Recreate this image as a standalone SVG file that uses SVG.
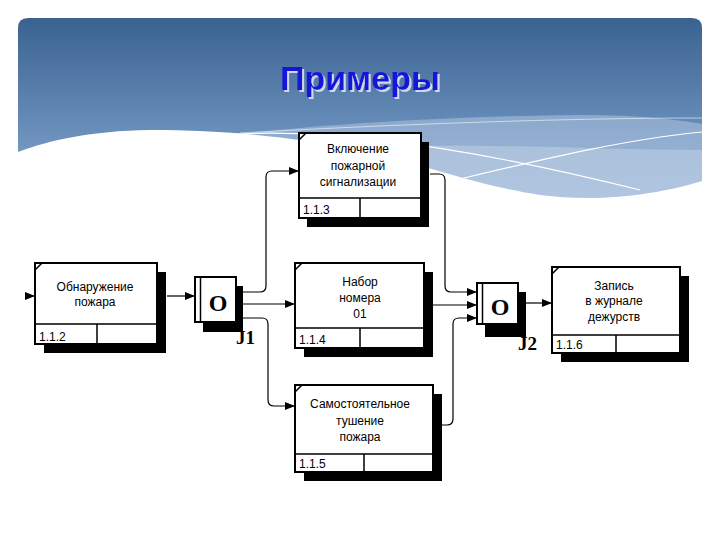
<svg xmlns="http://www.w3.org/2000/svg" width="720" height="540" viewBox="0 0 720 540">
<defs>
<linearGradient id="hdr" x1="0" y1="18" x2="0" y2="200" gradientUnits="userSpaceOnUse">
<stop offset="0" stop-color="#3a6290"/>
<stop offset="0.55" stop-color="#6389b6"/>
<stop offset="1" stop-color="#8eaacf"/>
</linearGradient>
<filter id="tsh" x="-10%" y="-20%" width="130%" height="150%">
<feDropShadow dx="2" dy="2" stdDeviation="0.6" flood-color="#d0d8ee" flood-opacity="1"/>
</filter>
<marker id="ah" viewBox="0 0 10 8" refX="10" refY="4" markerWidth="10" markerHeight="8" markerUnits="userSpaceOnUse" orient="auto">
<path d="M0,0 L10,4 L0,8 Z" fill="#000"/>
</marker>
<style>
.box{fill:#fff;stroke:#000;stroke-width:2}
.sh{fill:#000}
.dv{stroke:#000;stroke-width:1.5;fill:none}
.lbl{font-family:"Liberation Sans",Arial,sans-serif;font-size:12px;fill:#000;text-anchor:middle}
.num{font-family:"Liberation Sans",Arial,sans-serif;font-size:12px;fill:#000}
.jo{font-family:"Liberation Serif","Times New Roman",serif;font-weight:bold;font-size:24px;fill:#000;text-anchor:middle}
.jl{font-family:"Liberation Serif","Times New Roman",serif;font-weight:bold;font-size:19px;fill:#000}
.cn{fill:none;stroke:#000;stroke-width:1.2}
</style>
</defs>
<rect x="0" y="0" width="720" height="540" fill="#fff"/>
<g id="background">
<path d="M18,28 Q18,18 28,18 L692,18 Q702,18 702,28 L702,215 L18,215 Z" fill="url(#hdr)"/>
<path d="M222,136 C320,124 460,116 580,115 C640,115 680,120 702,124 L702,200 L230,200 Z" fill="#a9bfdc" opacity="0.6"/>
<path d="M330,150 C450,140 580,150 702,150 L702,200 L330,200 Z" fill="#c3d3e8" opacity="0.5"/>
<path d="M18,152 C50,140 90,131 150,130 C230,130 300,138 360,150 C420,163 470,184 540,195 C600,203 660,194 702,181 L702,540 L18,540 Z" fill="#fff"/>
<path d="M222,135 C330,126 480,150 640,190" fill="none" stroke="#fff" stroke-width="1.2"/>
<path d="M443,183 C540,160 620,140 702,132" fill="none" stroke="#fff" stroke-width="1.2"/>
<path d="M240,133 C380,125 560,118 702,118" fill="none" stroke="#fff" stroke-width="0.8" opacity="0.7"/>
</g>
<g id="title">
<text x="360" y="90" font-family="Liberation Sans,Arial,sans-serif" font-weight="bold" font-size="34" fill="#1818d8" text-anchor="middle" filter="url(#tsh)">Примеры</text>
</g>
<g id="connectors">
<path class="cn" d="M26,296 L35,296" marker-end="url(#ah)"/>
<path class="cn" d="M167,296 L195,296" marker-end="url(#ah)"/>
<path class="cn" d="M243,292 L260,292 Q266,292 266,286 L266,177 Q266,171 272,171 L299,171" marker-end="url(#ah)"/>
<path class="cn" d="M243,304 L295,304" marker-end="url(#ah)"/>
<path class="cn" d="M243,318 L262,318 Q268,318 268,324 L268,400 Q268,406 274,406 L295,406" marker-end="url(#ah)"/>
<path class="cn" d="M430,174 L439,174 Q445,174 445,180 L445,286 Q445,292 451,292 L477,292" marker-end="url(#ah)"/>
<path class="cn" d="M433,305 L477,305" marker-end="url(#ah)"/>
<path class="cn" d="M442,425 L447,425 Q453,425 453,419 L453,324 Q453,318 459,318 L477,318" marker-end="url(#ah)"/>
<path class="cn" d="M526,303 L552,303" marker-end="url(#ah)"/>
</g>
<g id="n112">
<rect class="sh" x="44" y="272" width="122" height="81"/>
<rect class="box" x="35" y="263" width="122" height="81"/>
<path class="dv" d="M35,324 L157,324 M97,324 L97,344 M35,270 L42,263"/>
<text class="lbl" x="95" y="291">Обнаружение</text>
<text class="lbl" x="95" y="306">пожара</text>
<text class="num" x="39" y="341">1.1.2</text>
</g>
<g id="j1">
<rect class="sh" x="203" y="286" width="40" height="46"/>
<rect class="box" x="195" y="277" width="41" height="45" stroke-width="1.5"/>
<path class="dv" d="M200.5,277 L200.5,322"/>
<text class="jo" x="218" y="311">O</text>
<text class="jl" x="236" y="344">J1</text>
</g>
<g id="n113">
<rect class="sh" x="307" y="142" width="122" height="85"/>
<rect class="box" x="299" y="133" width="122" height="85"/>
<path class="dv" d="M299,198 L421,198 M360,198 L360,218 M299,140 L306,133"/>
<text class="lbl" x="358" y="153">Включение</text>
<text class="lbl" x="358" y="170">пожарной</text>
<text class="lbl" x="358" y="186">сигнализации</text>
<text class="num" x="303" y="214">1.1.3</text>
</g>
<g id="n114">
<rect class="sh" x="304" y="272" width="129" height="85"/>
<rect class="box" x="295" y="263" width="129" height="85"/>
<path class="dv" d="M295,328 L424,328 M360,328 L360,348 M295,270 L302,263"/>
<text class="lbl" x="360" y="286">Набор</text>
<text class="lbl" x="360" y="302">номера</text>
<text class="lbl" x="360" y="318">01</text>
<text class="num" x="299" y="344">1.1.4</text>
</g>
<g id="n115">
<rect class="sh" x="304" y="394" width="138" height="87"/>
<rect class="box" x="295" y="385" width="138" height="87"/>
<path class="dv" d="M295,454 L433,454 M364,454 L364,472 M295,392 L302,385"/>
<text class="lbl" x="360" y="408">Самостоятельное</text>
<text class="lbl" x="360" y="425">тушение</text>
<text class="lbl" x="360" y="441">пожара</text>
<text class="num" x="299" y="468">1.1.5</text>
</g>
<g id="j2">
<rect class="sh" x="485" y="292" width="41" height="45"/>
<rect class="box" x="477" y="283" width="41" height="41" stroke-width="1.5"/>
<path class="dv" d="M482.5,283 L482.5,324"/>
<text class="jo" x="500" y="315">O</text>
<text class="jl" x="518" y="350">J2</text>
</g>
<g id="n116">
<rect class="sh" x="561" y="276" width="128" height="86"/>
<rect class="box" x="552" y="267" width="128" height="86"/>
<path class="dv" d="M552,335 L680,335 M616,335 L616,353 M552,274 L559,267"/>
<text class="lbl" x="614" y="290">Запись</text>
<text class="lbl" x="614" y="305">в журнале</text>
<text class="lbl" x="614" y="321">дежурств</text>
<text class="num" x="556" y="349">1.1.6</text>
</g>
</svg>
